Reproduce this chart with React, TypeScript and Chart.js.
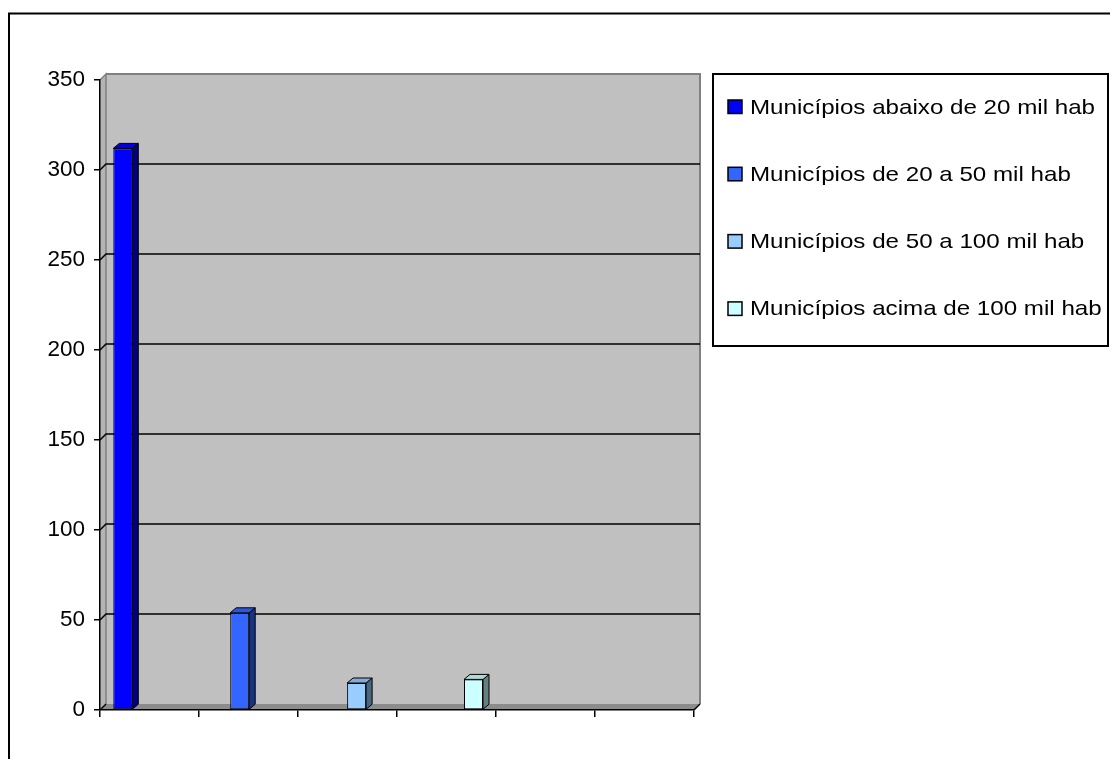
import React, { useEffect, useRef } from "react";
import { Chart, registerables } from "chart.js";

Chart.register(...registerables);

const seriesLabels = [
  "Municípios abaixo de 20 mil hab",
  "Municípios de 20 a 50 mil hab",
  "Municípios de 50 a 100 mil hab",
  "Municípios acima de 100 mil hab",
];
const seriesValues = [312, 54, 15, 17];
const seriesColors = ["#0000FF", "#3366FF", "#99CCFF", "#CCFFFF"];
const tickSlots = ["", "", "", "", "", ""];
const yMin = 0;
const yMax = 350;
const yStep = 50;

const FONT = "'Liberation Sans', Arial, sans-serif";

function shade(hex: string, f: number): string {
  const n = parseInt(hex.slice(1), 16);
  const r = Math.round(((n >> 16) & 255) * f);
  const g = Math.round(((n >> 8) & 255) * f);
  const b = Math.round((n & 255) * f);
  return `rgb(${r},${g},${b})`;
}

const WALL_DX = 6;
const WALL_DY = -6;
const BAR_DX = 6;
const BAR_DY = -5;

const excel3d = {
  id: "excel3d",
  beforeDraw(chart: any) {
    const { ctx, chartArea: a } = chart;
    const ys = chart.scales.y;
    ctx.save();
    // outer chart border (left + top visible)
    ctx.strokeStyle = "#000";
    ctx.lineWidth = 2;
    ctx.beginPath();
    ctx.moveTo(1, chart.height);
    ctx.lineTo(1, 5.5);
    ctx.lineTo(chart.width, 5.5);
    ctx.stroke();

    // back wall
    ctx.fillStyle = "#C0C0C0";
    ctx.fillRect(a.left + WALL_DX, a.top + WALL_DY, a.right - a.left, a.bottom - a.top);
    // side wall
    ctx.beginPath();
    ctx.moveTo(a.left, a.top);
    ctx.lineTo(a.left + WALL_DX, a.top + WALL_DY);
    ctx.lineTo(a.left + WALL_DX, a.bottom + WALL_DY);
    ctx.lineTo(a.left, a.bottom);
    ctx.closePath();
    ctx.fillStyle = "#B4B4B4";
    ctx.fill();
    ctx.strokeStyle = "#808080";
    ctx.lineWidth = 1.5;
    ctx.beginPath();
    ctx.moveTo(a.left, a.top);
    ctx.lineTo(a.left + WALL_DX, a.top + WALL_DY);
    ctx.lineTo(a.left + WALL_DX, a.bottom + WALL_DY);
    ctx.stroke();
    // floor
    ctx.beginPath();
    ctx.moveTo(a.left, a.bottom);
    ctx.lineTo(a.left + WALL_DX, a.bottom + WALL_DY);
    ctx.lineTo(a.right + WALL_DX, a.bottom + WALL_DY);
    ctx.lineTo(a.right, a.bottom);
    ctx.closePath();
    ctx.fillStyle = "#8C8C8C";
    ctx.fill();
    // back wall border top + right
    ctx.strokeStyle = "#808080";
    ctx.lineWidth = 2;
    ctx.beginPath();
    ctx.moveTo(a.left + WALL_DX, a.top + WALL_DY);
    ctx.lineTo(a.right + WALL_DX, a.top + WALL_DY);
    ctx.lineTo(a.right + WALL_DX, a.bottom + WALL_DY);
    ctx.stroke();
    // floor right diagonal
    ctx.strokeStyle = "#000";
    ctx.lineWidth = 1.5;
    ctx.beginPath();
    ctx.moveTo(a.right, a.bottom);
    ctx.lineTo(a.right + WALL_DX, a.bottom + WALL_DY);
    ctx.stroke();
    // gridlines on side + back wall
    ctx.strokeStyle = "#000";
    ctx.lineWidth = 1.5;
    for (let v = yMin; v < yMax; v += yStep) {
      const yy = ys.getPixelForValue(v);
      ctx.beginPath();
      ctx.moveTo(a.left, yy);
      ctx.lineTo(a.left + WALL_DX, yy + WALL_DY);
      if (v > yMin) ctx.lineTo(a.right + WALL_DX, yy + WALL_DY);
      ctx.stroke();
    }
    ctx.restore();
  },
  afterDatasetsDraw(chart: any) {
    const { ctx } = chart;
    ctx.save();
    ctx.strokeStyle = "#000";
    ctx.lineWidth = 1;
    ctx.lineJoin = "round";
    chart.data.datasets.forEach((ds: any, di: number) => {
      const meta = chart.getDatasetMeta(di);
      const base = ds.backgroundColor as string;
      meta.data.forEach((el: any) => {
        const { x, y, base: b, width } = el.getProps(["x", "y", "base", "width"], true);
        const l = x - width / 2;
        const r = x + width / 2;
        // side
        ctx.beginPath();
        ctx.moveTo(r, y);
        ctx.lineTo(r + BAR_DX, y + BAR_DY);
        ctx.lineTo(r + BAR_DX, b + BAR_DY);
        ctx.lineTo(r, b);
        ctx.closePath();
        ctx.fillStyle = shade(base, 0.5);
        ctx.fill();
        ctx.stroke();
        // top
        ctx.beginPath();
        ctx.moveTo(l, y);
        ctx.lineTo(l + BAR_DX, y + BAR_DY);
        ctx.lineTo(r + BAR_DX, y + BAR_DY);
        ctx.lineTo(r, y);
        ctx.closePath();
        ctx.fillStyle = shade(base, 0.85);
        ctx.fill();
        ctx.stroke();
      });
    });
    ctx.restore();
  },
  afterDraw(chart: any) {
    const { ctx } = chart;
    ctx.save();
    // legend box
    const bx = 705, by = 66, bw = 395, bh = 272;
    ctx.fillStyle = "#fff";
    ctx.fillRect(bx, by, bw, bh);
    ctx.strokeStyle = "#000";
    ctx.lineWidth = 2;
    ctx.strokeRect(bx, by, bw, bh);
    const rowGap = 67.3;
    chart.data.datasets.forEach((ds: any, i: number) => {
      const baseY = by + 39.5 + i * rowGap;
      ctx.fillStyle = ds.backgroundColor;
      ctx.fillRect(bx + 15, baseY - 13.5, 14, 13.5);
      ctx.strokeStyle = "#000";
      ctx.lineWidth = 1.5;
      ctx.strokeRect(bx + 15, baseY - 13.5, 14, 13.5);
      ctx.save();
      ctx.translate(bx + 37, baseY);
      ctx.scale(1.15, 1);
      ctx.fillStyle = "#000";
      ctx.font = `21px ${FONT}`;
      ctx.textBaseline = "alphabetic";
      ctx.textAlign = "left";
      ctx.fillText(ds.label, 0, 0);
      ctx.restore();
    });
    ctx.restore();
  },
};

export default function App() {
  const ref = useRef<HTMLCanvasElement | null>(null);
  useEffect(() => {
    if (!ref.current) return;
    const chart = new Chart(ref.current, {
      type: "bar",
      data: {
        datasets: seriesLabels.map((label, i) => ({
          label,
          data: [{ x: i, y: seriesValues[i] }],
          backgroundColor: seriesColors[i],
          borderColor: "#000",
          borderWidth: 1,
          borderSkipped: false,
          maxBarThickness: 19,
          grouped: false,
          xAxisID: "xb",
          yAxisID: "y",
        })) as any,
      },
      plugins: [excel3d],
      options: {
        animation: false,
        responsive: false,
        events: [],
        layout: { padding: { left: 0, top: 72, right: 416, bottom: 0 } },
        plugins: {
          legend: { display: false },
          tooltip: { enabled: false },
          title: { display: false },
        },
        scales: {
          x: {
            type: "category",
            labels: tickSlots,
            offset: true,
            grid: {
              offset: true,
              drawOnChartArea: false,
              drawTicks: true,
              tickLength: 7,
              color: "#000",
              lineWidth: 1.5,
            },
            border: { display: true, color: "#000", width: 1.5 },
            ticks: { display: true, font: { family: FONT, size: 22 } },
            afterFit: (s: any) => {
              s.height = 49;
            },
          },
          xb: {
            type: "linear",
            display: false,
            offset: false,
            grid: { offset: false },
            min: -0.195,
            max: 4.886,
          },
          y: {
            type: "linear",
            min: yMin,
            max: yMax,
            ticks: {
              stepSize: yStep,
              color: "#000",
              padding: 9,
              font: { family: FONT, size: 22.5 },
            },
            grid: {
              drawOnChartArea: false,
              drawTicks: true,
              tickLength: 6,
              color: "#000",
              lineWidth: 1.5,
            },
            border: { display: true, color: "#000", width: 1.5 },
            afterFit: (s: any) => {
              s.width = 92;
            },
          },
        },
      } as any,
    });
    return () => chart.destroy();
  }, []);
  return (
    <div style={{ width: 1102, height: 751 }}>
      <canvas ref={ref} width={1102} height={751} style={{ display: "block" }} />
    </div>
  );
}
